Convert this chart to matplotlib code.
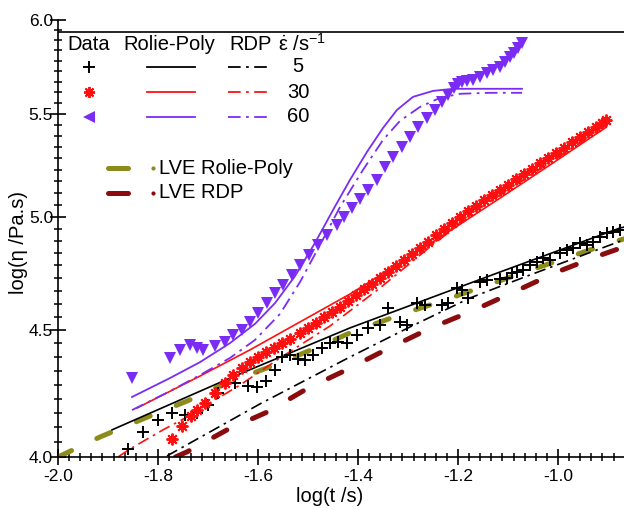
import numpy as np
import matplotlib
matplotlib.use('Agg')
import matplotlib.pyplot as plt
from matplotlib.ticker import FixedLocator, NullFormatter, FuncFormatter
from matplotlib.lines import Line2D

plt.rcParams['font.family'] = ['Liberation Sans', 'DejaVu Sans']
plt.rcParams['mathtext.fontset'] = 'custom'
plt.rcParams['mathtext.rm'] = 'Liberation Sans'
plt.rcParams['mathtext.it'] = 'Liberation Sans'
plt.rcParams['axes.unicode_minus'] = False
plt.rcParams['xtick.bottom'] = True
plt.rcParams['ytick.left'] = True

# ---------------- data (log t, log eta) ----------------
# LVE Rolie-Poly
lve_rp_x = [-2.0, -1.916, -1.83, -1.742, -1.658, -1.572, -1.49, -1.416, -1.316, -1.232, -1.146, -1.06, -0.972, -0.888, -0.868]
lve_rp_y = [4.0, 4.075, 4.144, 4.213, 4.288, 4.352, 4.421, 4.488, 4.564, 4.623, 4.688, 4.754, 4.820, 4.884, 4.897]
# LVE RDP
lve_rdp_x = [-1.765, -1.742, -1.662, -1.582, -1.50, -1.428, -1.338, -1.254, -1.172, -1.088, -1.002, -0.92, -0.868]
lve_rdp_y = [4.0, 4.019, 4.102, 4.170, 4.264, 4.332, 4.425, 4.509, 4.580, 4.662, 4.749, 4.820, 4.861]

# Rolie-Poly model
rp5_x = [-1.892, -1.656, -1.416, -1.116, -0.876, -0.868]
rp5_y = [4.102, 4.304, 4.509, 4.749, 4.947, 4.951]
rp30_x = [-1.842, -1.716, -1.616, -1.516, -1.416, -1.316, -1.216, -1.116, -1.016, -0.906]
rp30_y = [4.186, 4.312, 4.418, 4.534, 4.653, 4.789, 4.934, 5.086, 5.245, 5.428]
rp60_x = [-1.852, -1.776, -1.716, -1.656, -1.606, -1.566, -1.526, -1.486, -1.450, -1.416, -1.382,
          -1.350, -1.322, -1.290, -1.250, -1.210, -1.136, -1.072]
rp60_y = [4.229, 4.304, 4.368, 4.446, 4.526, 4.614, 4.731, 4.879, 5.030, 5.173, 5.309,
          5.428, 5.520, 5.587, 5.618, 5.629, 5.629, 5.629]

# RDP model
rdp5_x = [-1.782, -1.596, -1.416, -1.296, -1.176, -1.056, -0.868]
rdp5_y = [4.004, 4.202, 4.389, 4.513, 4.636, 4.736, 4.893]
rdp30_x = [-1.88, -1.856, -1.790, -1.746, -1.696, -1.636, -1.556, -1.456, -1.356, -1.256, -1.156, -1.056, -0.956, -0.906]
rdp30_y = [4.0, 4.030, 4.102, 4.147, 4.206, 4.276, 4.385, 4.517, 4.679, 4.861, 5.039, 5.192, 5.353, 5.443]
rdp60_x = [-1.852, -1.776, -1.716, -1.656, -1.606, -1.556, -1.516, -1.476, -1.436, -1.390, -1.350,
           -1.316, -1.276, -1.236, -1.196, -1.136, -1.072]
rdp60_y = [4.178, 4.252, 4.316, 4.385, 4.459, 4.568, 4.705, 4.870, 5.044, 5.221, 5.368,
           5.464, 5.535, 5.582, 5.603, 5.608, 5.608]

# Experimental data, 5 1/s
d5_x = [-1.86, -1.83, -1.80, -1.772, -1.746, -1.722, -1.70, -1.68, -1.646, -1.62, -1.602, -1.584,
        -1.566, -1.552, -1.536, -1.52, -1.506, -1.49, -1.472, -1.456, -1.44, -1.422, -1.402, -1.38,
        -1.356, -1.34, -1.316, -1.302, -1.282, -1.266, -1.232, -1.22, -1.202, -1.192, -1.18, -1.156,
        -1.142, -1.116, -1.102, -1.092, -1.082, -1.07, -1.056, -1.042, -1.03, -1.016, -0.996, -0.982,
        -0.97, -0.956, -0.942, -0.93, -0.916, -0.902, -0.89, -0.876]
d5_y = [4.030, 4.094, 4.140, 4.167, 4.159, 4.167, 4.198, 4.245, 4.284, 4.272, 4.268, 4.292,
        4.336, 4.389, 4.397, 4.381, 4.376, 4.397, 4.426, 4.447, 4.451, 4.447, 4.479, 4.509,
        4.521, 4.592, 4.534, 4.521, 4.614, 4.605, 4.605, 4.614, 4.679, 4.670, 4.636, 4.705,
        4.714, 4.718, 4.723, 4.745, 4.749, 4.758, 4.780, 4.794, 4.811, 4.802, 4.834, 4.847,
        4.856, 4.879, 4.870, 4.884, 4.906, 4.924, 4.929, 4.938]

# Experimental data, 30 1/s
d30_x = [-1.772, -1.752, -1.734, -1.722, -1.706, -1.686, -1.666, -1.650, -1.632, -1.616, -1.600, -1.584,
         -1.568, -1.552, -1.536, -1.516, -1.500, -1.484, -1.468, -1.452, -1.436, -1.420, -1.404, -1.388,
         -1.372, -1.356, -1.340, -1.324, -1.308, -1.292, -1.276, -1.260, -1.244, -1.228, -1.212, -1.196,
         -1.180, -1.164, -1.148, -1.132, -1.116, -1.100, -1.084, -1.068, -1.052, -1.036, -1.020, -1.004,
         -0.988, -0.972, -0.956, -0.940, -0.924, -0.912, -0.904]
d30_y = [4.067, 4.117, 4.155, 4.178, 4.206, 4.245, 4.284, 4.316, 4.344, 4.368, 4.389, 4.409,
         4.426, 4.446, 4.463, 4.488, 4.509, 4.530, 4.555, 4.576, 4.597, 4.623, 4.649, 4.674,
         4.696, 4.723, 4.749, 4.776, 4.803, 4.830, 4.857, 4.884, 4.915, 4.943, 4.970, 4.998,
         5.025, 5.049, 5.077, 5.101, 5.125, 5.149, 5.177, 5.201, 5.225, 5.255, 5.279, 5.304,
         5.328, 5.358, 5.383, 5.408, 5.433, 5.453, 5.469]

# Experimental data, 60 1/s
d60_x = [-1.852, -1.776, -1.756, -1.736, -1.722, -1.710, -1.686, -1.666, -1.650, -1.632, -1.616, -1.600,
         -1.582, -1.566, -1.550, -1.532, -1.516, -1.498, -1.480, -1.462, -1.442, -1.428, -1.412, -1.396,
         -1.380, -1.362, -1.346, -1.330, -1.312, -1.296, -1.280, -1.262, -1.246, -1.232, -1.220, -1.208,
         -1.200, -1.192, -1.182, -1.170, -1.156, -1.142, -1.130, -1.116, -1.106, -1.096, -1.088, -1.080, -1.072]
d60_y = [4.304, 4.385, 4.418, 4.438, 4.426, 4.418, 4.434, 4.450, 4.479, 4.500, 4.534, 4.572,
         4.614, 4.657, 4.692, 4.736, 4.780, 4.825, 4.870, 4.915, 4.961, 4.998, 5.039, 5.082,
         5.125, 5.173, 5.235, 5.284, 5.333, 5.383, 5.433, 5.479, 5.520, 5.561, 5.597, 5.634,
         5.655, 5.665, 5.670, 5.675, 5.691, 5.712, 5.728, 5.744, 5.771, 5.798, 5.820, 5.847, 5.874]

frame_line_y = 5.933

x_major = [-2.0, -1.8, -1.6, -1.4, -1.2, -1.0]
y_major = [4.0, 4.5, 5.0, 5.5, 6.0]

# ---------------- styling ----------------
BLACK = '#000000'
RED = '#ff1010'
PURPLE = '#7a2cf5'
OLIVE = '#8c8c1c'
DKRED = '#8b0c0c'

W, H = 624, 509
fig = plt.figure(figsize=(W / 100, H / 100), dpi=100)
ax = fig.add_axes([58 / W, 52 / H, 566 / W, 437 / H])
ax.set_yscale('log')
ax.set_xlim(-2.0, -0.868)
ax.set_ylim(4.0, 6.0)

# LVE lines
ax.plot(lve_rp_x, lve_rp_y, color=OLIVE, lw=3.6, dashes=(3.0, 5.6), dash_capstyle='round', zorder=2)
ax.plot(lve_rdp_x, lve_rdp_y, color=DKRED, lw=3.6, dashes=(3.0, 5.6), dash_capstyle='round', zorder=2)

# model lines
dd = (7, 3, 1.5, 3)
ax.plot(rp5_x, rp5_y, color=BLACK, lw=1.2, zorder=3)
ax.plot(rdp5_x, rdp5_y, color=BLACK, lw=1.2, dashes=dd, zorder=3)
ax.plot(rp30_x, rp30_y, color=RED, lw=1.2, zorder=3)
ax.plot(rdp30_x, rdp30_y, color=RED, lw=1.2, dashes=dd, zorder=3)
ax.plot(rp60_x, rp60_y, color=PURPLE, lw=1.3, zorder=3)
ax.plot(rdp60_x, rdp60_y, color=PURPLE, lw=1.3, dashes=dd, zorder=3)

# data markers
ax.plot(d5_x, d5_y, ls='none', marker='+', ms=8, mew=1.4, color=BLACK, zorder=4)
ax.plot(d30_x, d30_y, ls='none', marker=(8, 2, 0), ms=8.5, mew=1.4, color=RED, zorder=4)
ax.plot(d60_x, d60_y, ls='none', marker='v', ms=8.5, mew=0, color=PURPLE, zorder=4)

# frame line
ax.axhline(frame_line_y, color=BLACK, lw=1.2, zorder=5)

# axes / ticks
for s in ['top', 'right']:
    ax.spines[s].set_visible(False)
for s in ['left', 'bottom']:
    ax.spines[s].set_linewidth(1.2)
    ax.spines[s].set_zorder(6)
ax.xaxis.set_major_locator(FixedLocator(x_major))
ax.xaxis.set_minor_locator(FixedLocator([-2.0 + k * 0.2 / 9 for k in range(1, 51) if k % 9 != 0]))
ax.yaxis.set_major_locator(FixedLocator(y_major))
ax.yaxis.set_minor_locator(FixedLocator([4.0 + k * 0.5 / 9 for k in range(1, 36) if k % 9 != 0]))
ax.xaxis.set_major_formatter(FuncFormatter(lambda v, p: '%.1f' % v))
ax.yaxis.set_major_formatter(FuncFormatter(lambda v, p: '%.1f' % v))
ax.xaxis.set_minor_formatter(NullFormatter())
ax.yaxis.set_minor_formatter(NullFormatter())
ax.tick_params(axis='both', which='both', bottom=True, left=True, top=False, right=False,
               color='black', direction='inout')
ax.tick_params(axis='both', which='major', length=11, width=1.2, labelsize=12.5)
ax.tick_params(axis='x', which='major', pad=3)
ax.tick_params(axis='y', which='major', pad=-2)
ax.tick_params(axis='both', which='minor', length=6, width=1.1)

fig.text(330 / W, 1 - 496 / H, 'log(t /s)', fontsize=14.5, ha='center', va='center')
fig.text(19 / W, 1 - 242 / H, 'log(\u03b7 /Pa.s)', fontsize=14.5, ha='center', va='center', rotation=90)

# ---------------- legend (manual) ----------------
def fx(px):
    return px / W

def fy(py):
    return 1 - py / H

FS = 14.5
fig.text(fx(67), fy(44), 'Data', fontsize=FS, va='center', ha='left')
fig.text(fx(123), fy(44), 'Rolie-Poly', fontsize=FS, va='center', ha='left')
fig.text(fx(229), fy(44), 'RDP', fontsize=FS, va='center', ha='left')
fig.text(fx(278), fy(44), r'$\dot{\varepsilon}$ /s$^{-1}$', fontsize=FS, va='center', ha='left')

rows = [(67, BLACK, '+', '5'), (92, RED, (8, 2, 0), '30'), (117, PURPLE, '<', '60')]
for py, col, mk, lab in rows:
    if mk == '<':
        fig.add_artist(Line2D([fx(89)], [fy(py)], transform=fig.transFigure, ls='none',
                              marker=mk, ms=8, mew=0, color=col))
    else:
        fig.add_artist(Line2D([fx(89)], [fy(py)], transform=fig.transFigure, ls='none',
                              marker=mk, ms=8, mew=1.4, color=col))
    fig.add_artist(Line2D([fx(147), fx(195)], [fy(py), fy(py)], transform=fig.transFigure,
                          color=col, lw=1.3))
    fig.add_artist(Line2D([fx(228), fx(272)], [fy(py), fy(py)], transform=fig.transFigure,
                          color=col, lw=1.3, dashes=dd))
    fig.text(fx(298), fy(py), lab, fontsize=FS, va='center', ha='center')

for py, col, lab in [(168, OLIVE, 'LVE Rolie-Poly'), (193, DKRED, 'LVE RDP')]:
    fig.add_artist(Line2D([fx(108), fx(128)], [fy(py), fy(py)], transform=fig.transFigure,
                          color=col, lw=3.6, solid_capstyle='round'))
    fig.add_artist(Line2D([fx(153)], [fy(py)], transform=fig.transFigure, ls='none',
                          marker='o', ms=3, mew=0, color=col))
    fig.text(fx(159), fy(py), lab, fontsize=FS, va='center', ha='left')

fig.savefig('out.png', dpi=100)
